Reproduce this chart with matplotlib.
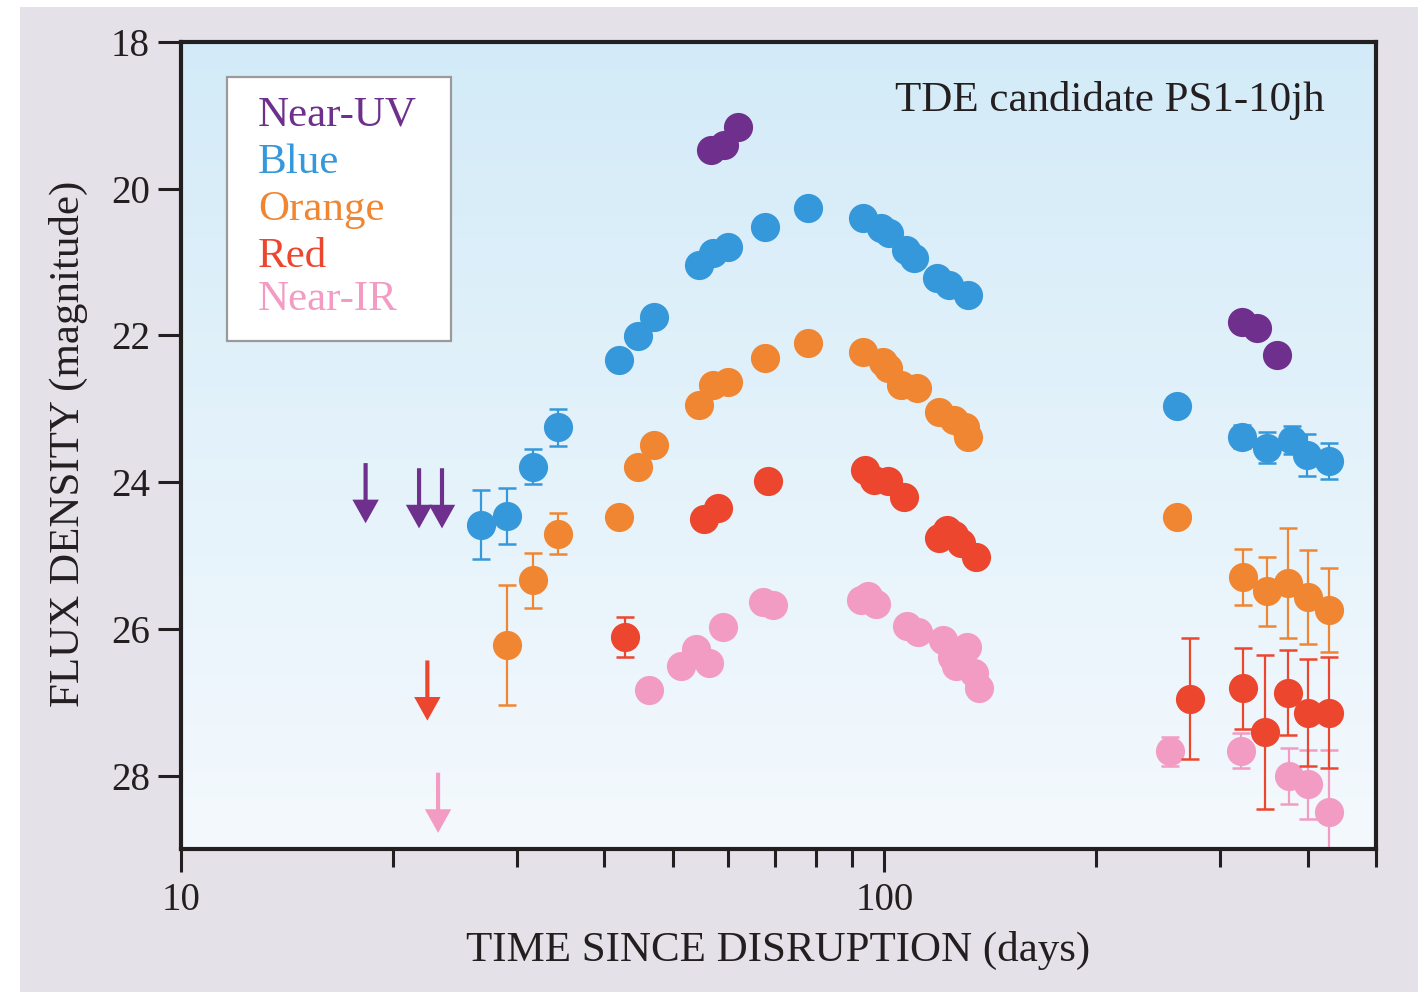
import numpy as np
import matplotlib
matplotlib.use("Agg")
import matplotlib.pyplot as plt
from matplotlib.patches import Rectangle
from matplotlib.colors import LinearSegmentedColormap
from matplotlib.ticker import FixedLocator, FixedFormatter, NullFormatter

# ---------------- data (days since disruption, magnitude, error) ----------------
nuv_t = [56.7, 59.1, 61.9, 322.5, 338.8, 361.8]
nuv_m = [19.47, 19.40, 19.16, 21.81, 21.90, 22.26]
nuv_e = [0, 0, 0, 0, 0, 0]
nuv_lim_t = [18.3, 21.8, 23.5]
nuv_lim_m = [23.74, 23.81, 23.81]

blue_t = [26.7, 29.1, 31.7, 34.3, 41.9, 44.6, 47.0, 54.5, 57.1, 59.9, 67.7, 77.9,
          93.3, 99.0, 101.6, 107.5, 110.3, 118.7, 123.4, 131.7,
          260.6, 322.5, 350.1, 380.1, 399.2, 429.1]
blue_m = [24.58, 24.46, 23.79, 23.25, 22.33, 22.01, 21.75, 21.04, 20.87, 20.79, 20.52, 20.26,
          20.40, 20.53, 20.60, 20.83, 20.94, 21.22, 21.31, 21.45,
          22.96, 23.38, 23.53, 23.42, 23.63, 23.71]
blue_e = [0.47, 0.38, 0.24, 0.25, 0, 0, 0, 0, 0, 0, 0, 0,
          0, 0, 0, 0, 0, 0, 0, 0,
          0, 0.16, 0.21, 0.19, 0.28, 0.25]

orange_t = [29.1, 31.7, 34.3, 41.9, 44.6, 47.0, 54.5, 57.1, 59.9, 67.7, 77.9,
            93.3, 99.7, 101.3, 105.7, 111.1, 119.4, 125.8, 130.0, 131.7,
            260.6, 323.6, 350.1, 375.1, 400.5, 429.1]
orange_m = [26.22, 25.34, 24.70, 24.47, 23.79, 23.49, 22.95, 22.67, 22.63, 22.31, 22.10,
            22.22, 22.36, 22.44, 22.67, 22.71, 23.05, 23.15, 23.25, 23.38,
            24.47, 25.29, 25.49, 25.37, 25.57, 25.74]
orange_e = [0.82, 0.38, 0.28, 0, 0, 0, 0, 0, 0, 0, 0,
            0, 0, 0, 0, 0, 0, 0, 0, 0,
            0, 0.38, 0.47, 0.75, 0.64, 0.57]

red_t = [42.8, 55.4, 58.0, 68.4, 94.0, 96.8, 101.3, 106.8, 119.4, 122.6, 125.8, 128.7, 135.2,
         271.9, 323.6, 347.8, 375.1, 400.5, 429.1]
red_m = [26.11, 24.50, 24.35, 23.98, 23.84, 23.97, 23.99, 24.20, 24.76, 24.65, 24.72, 24.83, 25.02,
         26.95, 26.81, 27.41, 26.87, 27.14, 27.14]
red_e = [0.27, 0, 0, 0, 0, 0, 0, 0, 0, 0, 0, 0, 0,
         0.83, 0.55, 1.05, 0.58, 0.73, 0.76]
red_lim_t = [22.4]
red_lim_m = [26.43]

pink_t = [46.3, 51.4, 54.0, 56.3, 59.0, 67.2, 69.5, 92.7, 94.9, 97.4, 107.8, 111.8,
          121.3, 124.6, 126.6, 130.9, 133.9, 136.1,
          254.7, 321.5, 376.4, 400.5, 429.1]
pink_m = [26.83, 26.51, 26.27, 26.46, 25.97, 25.64, 25.67, 25.60, 25.55, 25.66, 25.96, 26.04,
          26.15, 26.38, 26.51, 26.24, 26.60, 26.80,
          27.67, 27.66, 28.00, 28.12, 28.50]
pink_e = [0, 0, 0, 0, 0, 0, 0, 0, 0, 0, 0, 0,
          0, 0, 0, 0, 0, 0,
          0.20, 0.24, 0.38, 0.47, 0.85]
pink_lim_t = [23.2]
pink_lim_m = [27.96]

band_names = ["Near-UV", "Blue", "Orange", "Red", "Near-IR"]
band_colors = ["#6e308c", "#3498db", "#f08632", "#ec462e", "#f29cc4"]

x_major = [10, 100]
x_major_labels = ["10", "100"]
x_minor = [20, 30, 40, 50, 60, 70, 80, 90, 200, 300, 400, 500]
y_ticks = [18, 20, 22, 24, 26, 28]
y_tick_labels = ["18", "20", "22", "24", "26", "28"]

title_text = "TDE candidate PS1-10jh"
xlabel_text = "TIME SINCE DISRUPTION (days)"
ylabel_text = "FLUX DENSITY (magnitude)"

# ---------------- style ----------------
FONT = ["Liberation Serif", "DejaVu Serif"]
TXT = "#231f20"
plt.rcParams["font.family"] = FONT

W, H = 1427, 992
fig = plt.figure(figsize=(W / 100, H / 100), dpi=100, facecolor="white")
fig.add_artist(Rectangle((20 / W, 0), (1418 - 20) / W, (H - 7) / H,
                         transform=fig.transFigure, facecolor="#e4e1e8",
                         edgecolor="none", zorder=-10))

ax = fig.add_axes([181 / W, 1 - 849 / H, (1376 - 181) / W, (849 - 42) / H])
ax.set_facecolor("none")

# gradient background
grad = np.linspace(0, 1, 256).reshape(-1, 1)
cmap = LinearSegmentedColormap.from_list("bg", ["#d3ebf8", "#f4f9fd"])
ax.imshow(grad, extent=[0, 1, 0, 1], transform=ax.transAxes, cmap=cmap,
          aspect="auto", origin="upper", zorder=-5, interpolation="bilinear")

ax.set_xscale("log")
ax.set_xlim(10, 500)
ax.set_ylim(29, 18)

MS = 21
arrow_len = 0.82


def draw_band(t, m, e, color, z):
    t = np.asarray(t); m = np.asarray(m); e = np.asarray(e)
    sel = e > 0
    if sel.any():
        ax.errorbar(t[sel], m[sel], yerr=e[sel], fmt="none", ecolor=color,
                    elinewidth=1.6, capsize=6.8, capthick=1.8, zorder=z)
    ax.plot(t, m, "o", color=color, markersize=MS, markeredgewidth=0,
            zorder=z + 0.5, clip_on=True)


def draw_limits(t, m, color):
    for ti, mi in zip(t, m):
        ax.annotate("", xy=(ti, mi + arrow_len), xytext=(ti, mi),
                    xycoords="data", textcoords="data",
                    arrowprops=dict(width=3.0, headwidth=19, headlength=17,
                                    shrink=0.0, color=color, lw=0),
                    zorder=6)


draw_band(pink_t, pink_m, pink_e, band_colors[4], 2)
draw_band(red_t, red_m, red_e, band_colors[3], 3)
draw_band(orange_t, orange_m, orange_e, band_colors[2], 4)
draw_band(blue_t, blue_m, blue_e, band_colors[1], 5)
draw_band(nuv_t, nuv_m, nuv_e, band_colors[0], 6)
draw_limits(nuv_lim_t, nuv_lim_m, band_colors[0])
draw_limits(red_lim_t, red_lim_m, band_colors[3])
draw_limits(pink_lim_t, pink_lim_m, band_colors[4])

# ticks
ax.xaxis.set_major_locator(FixedLocator(x_major))
ax.xaxis.set_major_formatter(FixedFormatter(x_major_labels))
ax.xaxis.set_minor_locator(FixedLocator(x_minor))
ax.xaxis.set_minor_formatter(NullFormatter())
ax.yaxis.set_major_locator(FixedLocator(y_ticks))
ax.yaxis.set_major_formatter(FixedFormatter(y_tick_labels))
ax.yaxis.set_minor_locator(FixedLocator([]))

ax.tick_params(axis="x", which="major", direction="out", length=16.5, width=2.2,
               color=TXT, labelsize=28, labelcolor=TXT, pad=7)
ax.tick_params(axis="x", which="minor", direction="out", length=13, width=2.2,
               color=TXT)
ax.tick_params(axis="y", which="major", direction="out", length=16.5, width=2.2,
               color=TXT, labelsize=28, labelcolor=TXT, pad=6)
for sp in ax.spines.values():
    sp.set_linewidth(3.0)
    sp.set_color(TXT)

# title inside
ax.text(0.957, 0.928, title_text, transform=ax.transAxes, ha="right", va="center",
        fontsize=31, color=TXT)

# legend box with coloured labels
ax.add_patch(Rectangle((0.0385, 0.6295), 0.2259 - 0.0385, 0.9566 - 0.6295,
                       transform=ax.transAxes, facecolor="white",
                       edgecolor="#9a9a9a", linewidth=1.6, zorder=8))
leg_y = [0.9095, 0.850, 0.7918, 0.7336, 0.6803]
for name, col, yy in zip(band_names, band_colors, leg_y):
    ax.text(0.0644, yy, name, transform=ax.transAxes, ha="left", va="center",
            fontsize=31, color=col, zorder=9)

fig.text(778.5 / W, 1 - 950 / H, xlabel_text, ha="center", va="center",
         fontsize=31, color=TXT)
fig.text(68 / W, 1 - 444 / H, ylabel_text, ha="center", va="center",
         rotation=90, fontsize=31, color=TXT)

fig.savefig("out.png", dpi=100, facecolor="white")
